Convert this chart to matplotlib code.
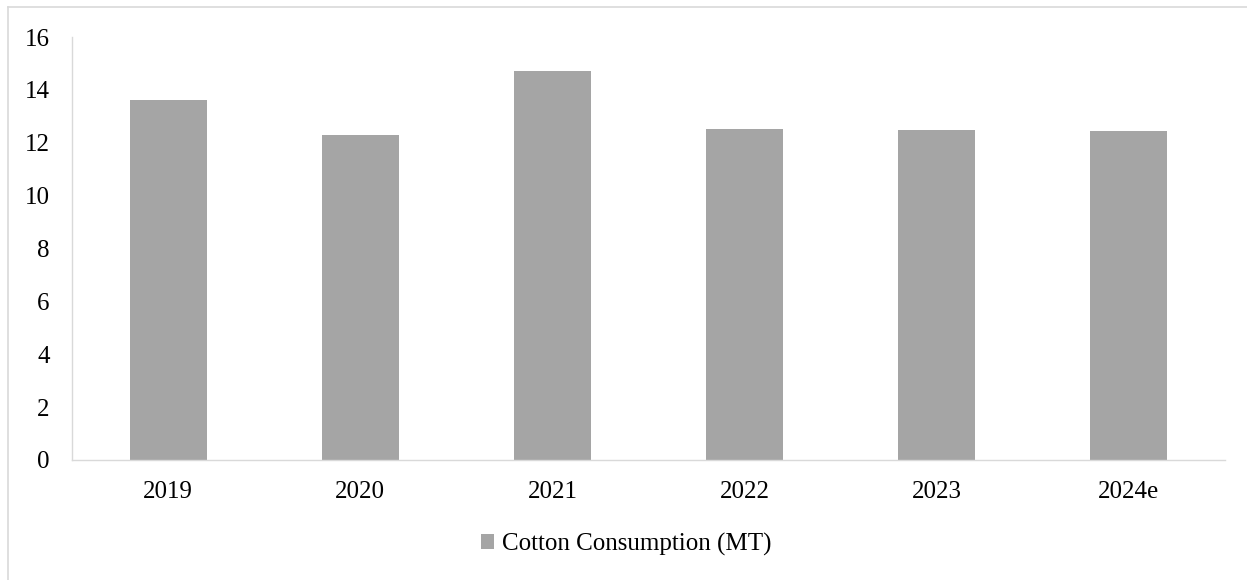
import matplotlib
matplotlib.use("Agg")
import matplotlib.pyplot as plt
from matplotlib.lines import Line2D
from matplotlib.patches import Patch

categories = ["2019", "2020", "2021", "2022", "2023", "2024e"]
consumption = [13.62, 12.29, 14.72, 12.52, 12.47, 12.43]
series_name = "Cotton Consumption (MT)"
yticks = [0, 2, 4, 6, 8, 10, 12, 14, 16]

plt.rcParams['font.family'] = ['Liberation Serif', 'DejaVu Serif']

fig = plt.figure(figsize=(12.47, 5.8), dpi=100)
ax = fig.add_axes([72/1247, 120/580, (1225-72)/1247, (460-37)/580])

bar_color = "#A5A5A5"
axis_color = "#D9D9D9"
x = list(range(len(categories)))
ax.bar(x, consumption, width=0.40, color=bar_color, zorder=2)
ax.set_xlim(-0.5, len(categories) - 0.5)
ax.set_ylim(0, 16)
ax.set_yticks(yticks)
ax.set_yticklabels([str(v) for v in yticks])
ax.set_xticks(x)
ax.set_xticklabels(categories)
ax.tick_params(axis='both', length=0, labelsize=18, colors="#000000")
ax.tick_params(axis='y', pad=16)
ax.tick_params(axis='x', pad=15)
for s in ["top", "right"]:
    ax.spines[s].set_visible(False)
for s in ["left", "bottom"]:
    ax.spines[s].set_color(axis_color)
    ax.spines[s].set_linewidth(1.0)

# outer chart-area frame (left and top edges visible)
fig.add_artist(Line2D([7.5/1247, 7.5/1247], [0, 1 - 7/580], transform=fig.transFigure,
                      color=axis_color, lw=1.2))
fig.add_artist(Line2D([7.5/1247, 1], [1 - 7/580, 1 - 7/580], transform=fig.transFigure,
                      color=axis_color, lw=1.2))

handle = Patch(facecolor=bar_color, edgecolor='none')
fig.legend([handle], [series_name], loc='center', bbox_to_anchor=(0.502, 36/580),
           frameon=False, fontsize=18, handlelength=0.55, handleheight=0.55,
           handletextpad=0.3)

fig.savefig("out.png", dpi=100)
